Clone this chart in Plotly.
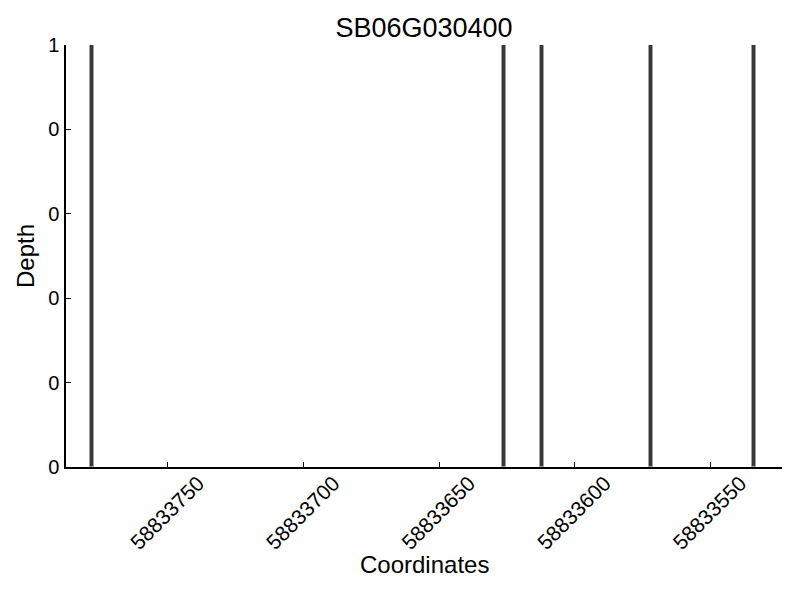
import plotly.graph_objects as go

title = "SB06G030400"
coords = [58833778, 58833626, 58833612, 58833572, 58833534]
depth = [1, 1, 1, 1, 1]
x_ticks = [58833750, 58833700, 58833650, 58833600, 58833550]
x_ticklabels = ["58833750", "58833700", "58833650", "58833600", "58833550"]
y_ticks = [0, 0.2, 0.4, 0.6, 0.8, 1]
y_ticklabels = ["0", "0", "0", "0", "0", "1"]
x_title = "Coordinates"
y_title = "Depth"

fig = go.Figure()
fig.add_trace(go.Bar(
    x=coords, y=depth, width=1.6,
    marker=dict(color="#383838", line=dict(color="#a0a0a0", width=1)),
    showlegend=False,
))

font_family = "Liberation Sans, Arial, sans-serif"
fig.update_layout(
    template="none",
    width=800, height=600,
    paper_bgcolor="white", plot_bgcolor="white",
    margin=dict(l=58, r=26, t=37, b=141),
    title=dict(text=title, xref="paper", x=0.5, xanchor="center",
               yref="container", y=1 - 20 / 600, yanchor="middle",
               font=dict(family=font_family, size=27, color="black")),
    font=dict(family=font_family, color="black"),
    bargap=0,
    showlegend=False,
)
fig.update_xaxes(
    range=[58833787.6, 58833523.6], automargin=False,
    tickvals=x_ticks, ticktext=x_ticklabels, tickangle=-45,
    ticks="inside", ticklen=5, tickcolor="black", tickwidth=1,
    tickfont=dict(size=21), ticklabelshift=-30, ticklabelstandoff=-6,
    showline=True, linecolor="black", linewidth=1.5, mirror=False,
    showgrid=False, zeroline=False,
)
fig.update_yaxes(
    range=[0, 1], automargin=False,
    tickvals=y_ticks, ticktext=y_ticklabels,
    ticks="inside", ticklen=5, tickcolor="black", tickwidth=1,
    tickfont=dict(size=20), ticklabelstandoff=1,
    showline=True, linecolor="black", linewidth=1.5, mirror=False,
    showgrid=False, zeroline=False,
)
fig.add_annotation(text=x_title, xref="paper", yref="paper", x=0.5, y=-0.2299,
                   xanchor="center", yanchor="middle", showarrow=False,
                   font=dict(family=font_family, size=24, color="black"))
fig.add_annotation(text=y_title, xref="paper", yref="paper", x=-0.0573, y=0.5,
                   xanchor="center", yanchor="middle", showarrow=False, textangle=-90,
                   font=dict(family=font_family, size=24, color="black"))
fig.write_html("out.html")
